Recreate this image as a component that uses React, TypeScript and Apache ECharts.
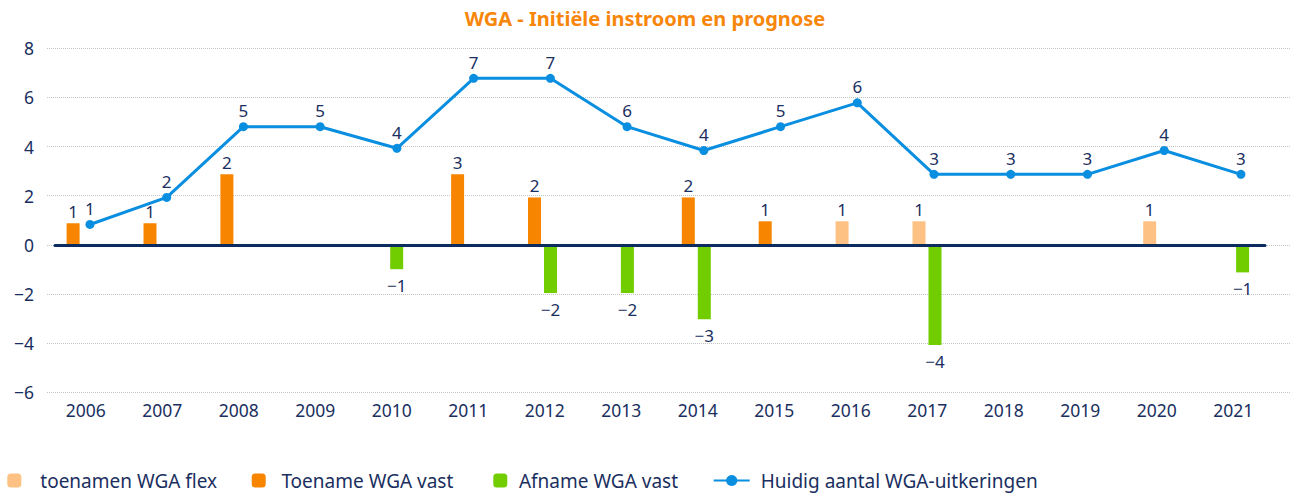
import React, { useEffect, useRef } from "react";
import * as echarts from "echarts";

const years = ["2006","2007","2008","2009","2010","2011","2012","2013","2014","2015","2016","2017","2018","2019","2020","2021"];
const flexValues = [null,null,null,null,null,null,null,null,null,null,0.96,0.96,null,null,0.96,null];
const flexLabels = ["","","","","","","","","","","1","1","","","1",""];
const vastValues = [0.88,0.88,2.87,null,null,2.87,1.93,null,1.93,0.96,null,null,null,null,null,null];
const vastLabels = ["1","1","2","","","3","2","","2","1","","","","","",""];
const afnameValues = [null,null,null,null,-0.99,null,-1.96,-1.96,-3.03,null,null,-4.07,null,null,null,-1.12];
const afnameLabels = ["","","","","\u22121","","\u22122","\u22122","\u22123","","","\u22124","","","","\u22121"];
const lineValues = [0.83,1.93,4.81,4.81,3.93,6.78,6.78,4.81,3.84,4.81,5.78,2.87,2.87,2.87,3.84,2.87];
const lineLabels = ["1","2","5","5","4","7","7","6","4","5","6","3","3","3","4","3"];

const NAVY = "#1a2f60";
const FONT = "Noto Sans";

export default function App() {
  const ref = useRef<HTMLDivElement>(null);
  useEffect(() => {
    if (!ref.current) return;
    const chart = echarts.init(ref.current, undefined, { renderer: "svg" });
    const top = 48.3;
    const height = 344;
    const hiddenX = (i: number) => ({
      type: "category", gridIndex: i, data: years, show: false, boundaryGap: true,
    });
    const hiddenY = (i: number) => ({ type: "value", gridIndex: i, min: -6, max: 8, interval: 2, show: false });
    const legendBase = {
      top: 471, padding: 0, itemWidth: 14, itemHeight: 14,
      textStyle: { color: NAVY, fontSize: 19, fontFamily: FONT },
    };
    chart.setOption({
      animation: false,
      title: {
        text: "WGA - Initiële instroom en prognose",
        left: "center", top: 3,
        textStyle: { color: "#f7860a", fontSize: 20, fontWeight: "bold", fontFamily: FONT },
      },
      legend: [
        { ...legendBase, left: 7.3, data: ["toenamen WGA flex"], textStyle: { ...legendBase.textStyle, padding: [0,0,0,14] } },
        { ...legendBase, left: 251.7, data: ["Toename WGA vast"], textStyle: { ...legendBase.textStyle, padding: [0,0,0,10.7] } },
        { ...legendBase, left: 493.3, data: ["Afname WGA vast"], textStyle: { ...legendBase.textStyle, padding: [0,0,0,6.6] } },
        { ...legendBase, left: 712.7, itemWidth: 36, data: ["Huidig aantal WGA-uitkeringen"], textStyle: { ...legendBase.textStyle, padding: [0,0,0,6] } },
      ],
      grid: [
        { left: 47, right: 0, top, height },
        { left: 42.65, width: 1230.4, top, height },
        { left: 51.6, width: 1227.7, top, height },
        { left: 55, width: 1210, top, height },
        { left: 47.5, width: 1224, top, height },
      ],
      xAxis: [
        hiddenX(0),
        hiddenX(1),
        hiddenX(2),
        {
          type: "category", gridIndex: 3, data: years, z: 10,
          axisLine: { show: true, onZero: true, lineStyle: { color: "#0c2b5e", width: 3 } },
          axisTick: { show: false }, axisLabel: { show: false }, splitLine: { show: false },
        },
        {
          type: "category", gridIndex: 4, data: years,
          axisLine: { show: false }, axisTick: { show: false },
          axisLabel: { color: NAVY, fontSize: 17.5, fontFamily: FONT, margin: 9 },
        },
      ],
      yAxis: [
        {
          type: "value", gridIndex: 0, min: -6, max: 8, interval: 2,
          axisLine: { show: false }, axisTick: { show: false },
          axisLabel: {
            color: NAVY, fontSize: 17.5, fontFamily: FONT, margin: 13,
            formatter: (v: number) => String(v).replace("-", "\u2212"),
          },
          splitLine: { show: true, lineStyle: { color: "#c4c4c4", type: "dotted", width: 1 } },
        },
        hiddenY(1), hiddenY(2), hiddenY(3), hiddenY(4),
      ],
      series: [
        {
          name: "toenamen WGA flex", type: "bar", xAxisIndex: 1, yAxisIndex: 1, stack: "pos",
          barWidth: 13, barGap: "23%", data: flexValues,
          itemStyle: { color: "#fdc283" },
          label: { show: true, position: "top", distance: 3, color: NAVY, fontSize: 17, fontFamily: FONT,
            formatter: (p: any) => flexLabels[p.dataIndex] },
        },
        {
          name: "Toename WGA vast", type: "bar", xAxisIndex: 1, yAxisIndex: 1, stack: "pos",
          barWidth: 13, barGap: "23%", data: vastValues,
          itemStyle: { color: "#f78500" },
          label: { show: true, position: "top", distance: 3, color: NAVY, fontSize: 17, fontFamily: FONT,
            formatter: (p: any) => vastLabels[p.dataIndex] },
        },
        {
          name: "Afname WGA vast", type: "bar", xAxisIndex: 1, yAxisIndex: 1, stack: "neg",
          barWidth: 13, barGap: "23%", data: afnameValues,
          itemStyle: { color: "#72cd00" },
          label: { show: true, position: "bottom", distance: 8, color: NAVY, fontSize: 17, fontFamily: FONT,
            formatter: (p: any) => afnameLabels[p.dataIndex] },
        },
        {
          name: "Huidig aantal WGA-uitkeringen", type: "line", xAxisIndex: 2, yAxisIndex: 2,
          data: lineValues, symbol: "circle", symbolSize: 9,
          lineStyle: { color: "#0a8ee0", width: 3 },
          itemStyle: { color: "#0a8ee0" },
          label: { show: true, position: "top", distance: 3, color: NAVY, fontSize: 17, fontFamily: FONT,
            formatter: (p: any) => lineLabels[p.dataIndex] },
          z: 3,
        },
      ],
    });
    return () => chart.dispose();
  }, []);
  return <div ref={ref} style={{ width: 1290, height: 493, position: "absolute", left: 0, top: 0 }} />;
}
